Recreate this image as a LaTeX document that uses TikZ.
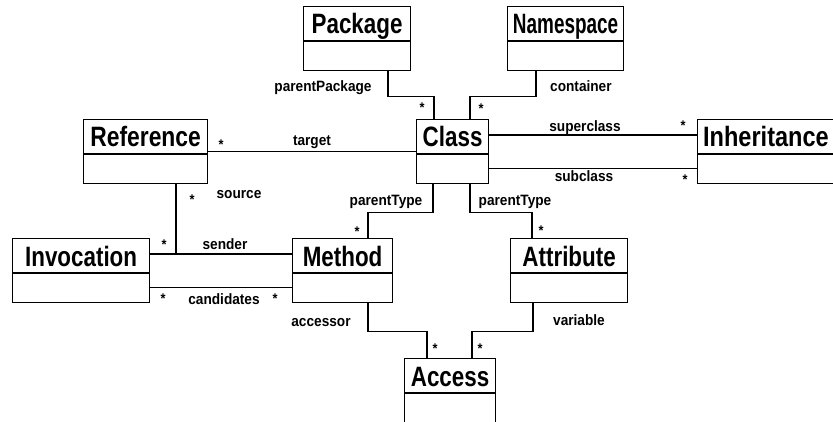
\documentclass[tikz,border=0pt]{standalone}
\usepackage{fontspec}
\newfontfamily\condA{Liberation Sans}[FakeStretch=0.8]
\newfontfamily\condB{Liberation Sans}[FakeStretch=0.91]
\begin{document}
\begin{tikzpicture}[x=1pt,y=-1pt,
  box/.style={draw,line width=1.2pt,inner sep=0pt,anchor=north west},
  cname/.style={font=\condA\bfseries\fontsize{28}{28}\selectfont,inner sep=0pt,text height=20pt,text depth=0pt},
  lbl/.style={font=\condB\bfseries\fontsize{15}{15}\selectfont,inner sep=0pt,text height=10.8pt,text depth=0pt},
  mult/.style={font=\condB\bfseries\fontsize{14}{14}\selectfont,inner sep=0pt},
  conn/.style={line width=1.2pt}]
\useasboundingbox (0,0) rectangle (833,422);
\clip (0,0) rectangle (833,422);
% classes: name, left, top, width, height, text
\newcommand\umlbox[6]{%
  \node[box,minimum width=#4pt,minimum height=#5pt] (#1) at (#2,#3) {};
  \draw[line width=1.2pt] ([yshift=-35pt]#1.north west) -- ([yshift=-35pt]#1.north east);
  \node[cname] (#1-t) at ([yshift=-18pt]#1.north) {#6};}
\umlbox{pkg}{303}{6}{107}{64}{Package}
\umlbox{ns}{507}{6}{116}{64}{\scalebox{0.845}[1]{Namespace}}
\umlbox{cls}{416}{119}{72}{64}{Class}
\umlbox{inh}{697}{119}{150}{64}{}
\node[cname,anchor=west] (inh-name) at ([xshift=6pt,yshift=-18pt]inh.north west) {\scalebox{1.05}[1]{Inheritance}};
\umlbox{ref}{83}{119}{124}{64}{\scalebox{1.02}[1]{Reference}}
\umlbox{inv}{12}{238}{137}{64}{Invocation}
\umlbox{meth}{292}{238}{100}{64}{Method}
\umlbox{attr}{510}{238}{117}{64}{Attribute}
\umlbox{acc}{404}{358}{91}{70}{Access}
% connectors
\draw[conn] ([xshift=85pt]pkg.south west) -- ++(0,25) -| ([xshift=18pt]cls.north west);
\draw[conn] ([xshift=29pt]ns.south west) -- ++(0,25) -| ([xshift=54pt]cls.north west);
\draw[conn] (ref.east) -- (cls.west);
\coordinate (sup) at ([yshift=-16pt]cls.north east);
\coordinate (sub) at ([yshift=16pt]cls.south east);
\draw[conn] (sup) -- (sup -| inh.west);
\draw[conn] (sub) -- (sub -| inh.west);
\draw[conn] ([xshift=17pt]cls.south west) -- ++(0,28) -| ([xshift=76pt]meth.north west);
\draw[conn] ([xshift=54pt]cls.south west) -- ++(0,28) -| ([xshift=22pt]attr.north west);
\coordinate (snd) at ([yshift=-16pt]inv.north east);
\coordinate (cand) at ([yshift=16pt]inv.south east);
\coordinate (src) at ([xshift=93pt]ref.south west);
\draw[conn] (snd) -- (snd -| meth.west);
\draw[conn] (cand) -- (cand -| meth.west);
\draw[conn] (src) -- (src |- snd);
\draw[conn] ([xshift=76pt]meth.south west) -- ++(0,28) -| ([xshift=23pt]acc.north west);
\draw[conn] ([xshift=23pt]attr.south west) -- ++(0,28) -| ([xshift=68pt]acc.north west);
% labels
\node[lbl] (l1) at (323,86) {parentPackage};
\node[lbl,anchor=west] (l2) at (550,86) {container};
\node[lbl] (l3) at (312,140) {target};
\node[lbl] (l4) at (585,126) {superclass};
\node[lbl] (l5) at (584,176) {subclass};
\node[lbl] (l6) at (239,193) {source};
\node[lbl] (l7) at (225,244) {sender};
\node[lbl] (l8) at (224,299) {candidates};
\node[lbl] (l9) at (386,200) {parentType};
\node[lbl] (l10) at (515,200) {parentType};
\node[lbl] (l11) at (321,321) {accessor};
\node[lbl] (l12) at (579,320) {variable};
% multiplicities
\foreach \p/\q [count=\i] in {422/105,481/106,221/142,683/123,685/177,192/197,164/242,163/296,275/296,357/229,541/228,435/346,480/346}
  \node[mult] (m\i) at (\p,\q+3) {*};
\end{tikzpicture}
\end{document}
